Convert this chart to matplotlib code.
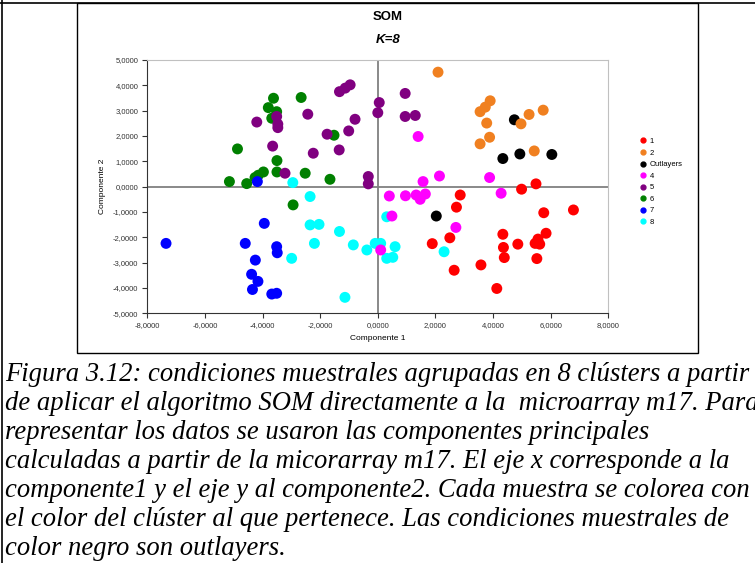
import matplotlib.pyplot as plt
from matplotlib.lines import Line2D
from matplotlib.ticker import FuncFormatter, MultipleLocator

# cluster members, (componente 1, componente 2)
c1_x = [2.86, 2.73, 4.99, 5.49, 5.76, 6.79, 4.34, 5.84, 2.50, 1.89,
        4.36, 4.86, 5.56, 5.62, 5.46, 4.39, 5.52, 3.58, 2.65, 4.13]
c1_y = [-0.33, -0.81, -0.10, 0.11, -1.03, -0.92, -1.88, -1.84, -2.02, -2.25,
        -2.40, -2.27, -2.07, -2.27, -2.24, -2.80, -2.84, -3.09, -3.30, -4.02]

c2_x = [2.09, 3.90, 3.73, 3.55, 3.78, 3.88, 3.55, 5.25, 5.74, 4.97, 5.43]
c2_y = [4.52, 3.39, 3.14, 2.96, 2.51, 1.95, 1.69, 2.85, 3.02, 2.48, 1.41]

out_x = [4.74, 4.34, 4.93, 6.04, 2.03]
out_y = [2.64, 1.11, 1.29, 1.27, -1.16]

c4_x = [1.40, 1.57, 2.14, 3.88, 0.40, 0.96, 1.33, 1.47, 1.65, 4.28, 0.49, 2.71, 0.10]
c4_y = [1.98, 0.20, 0.42, 0.36, -0.37, -0.36, -0.33, -0.50, -0.29, -0.26, -1.16, -1.61, -2.50]

c5_x = [-4.20, -3.51, -3.47, -3.47, -2.43, -3.65, -2.24, -1.76, -1.34, -1.01, -0.79,
        -1.33, -1.13, -0.96, 0.05, 0.00, -3.22, -0.33, -0.33, 0.95, 0.95, 1.30]
c5_y = [2.55, 2.77, 2.47, 2.33, 2.86, 1.60, 1.32, 2.07, 1.45, 2.20, 2.66,
        3.75, 3.89, 4.02, 3.32, 2.92, 0.53, 0.40, 0.11, 3.68, 2.77, 2.81]

c6_x = [-3.62, -2.66, -3.80, -3.51, -3.68, -1.52, -4.87, -3.50, -3.50, -3.97,
        -4.15, -4.26, -5.15, -4.55, -2.52, -1.66, -2.94]
c6_y = [3.49, 3.52, 3.12, 2.96, 2.70, 2.03, 1.49, 1.03, 0.58, 0.58,
        0.45, 0.36, 0.20, 0.12, 0.53, 0.29, -0.72]

c7_x = [-7.35, -4.60, -3.94, -3.51, -3.49, -4.25, -4.38, -4.16, -4.35, -3.68, -3.51, -4.18]
c7_y = [-2.24, -2.24, -1.45, -2.37, -2.61, -2.90, -3.46, -3.74, -4.06, -4.24, -4.21, 0.20]

c8_x = [-2.95, -2.35, -2.35, -2.04, -1.33, -2.20, -2.99, -0.85, -0.38, -0.09,
        0.10, -1.14, 0.31, 0.60, 0.31, 0.52, 2.30]
c8_y = [0.16, -0.39, -1.51, -1.49, -1.77, -2.24, -2.83, -2.30, -2.50, -2.24,
        -2.24, -4.37, -1.19, -2.37, -2.83, -2.79, -2.57]

labels = ['1', '2', 'Outlayers', '4', '5', '6', '7', '8']
colors = ['#ff0000', '#f08020', '#000000', '#ff00ff', '#800080', '#008000', '#0000ff', '#00ffff']

caption = [
    "Figura 3.12: condiciones muestrales agrupadas en 8 clústers a partir",
    "de aplicar el algoritmo SOM directamente a la  microarray m17. Para",
    "representar los datos se usaron las componentes principales",
    "calculadas a partir de la micorarray m17. El eje x corresponde a la",
    "componente1 y el eje y al componente2. Cada muestra se colorea con",
    "el color del clúster al que pertenece. Las condiciones muestrales de",
    "color negro son outlayers.",
]

W, H = 755, 563
fig = plt.figure(figsize=(W / 100, H / 100), dpi=100)
plt.rcParams['font.family'] = 'Liberation Sans'

# page borders and chart frame
fig.add_artist(Line2D([0, 1], [1 - 3 / H, 1 - 3 / H], color='black', lw=1.2))
fig.add_artist(Line2D([2 / W, 2 / W], [0, 1], color='black', lw=1.2))
fig.add_artist(plt.Rectangle((77 / W, 1 - 353 / H), (698 - 77) / W, (353 - 3) / H,
                             fill=False, edgecolor='black', lw=1.0))

ax = fig.add_axes([147.3 / W, 1 - 313.3 / H, 461 / W, 253.3 / H])

series = [(out_x, out_y, 2), (c2_x, c2_y, 1), (c1_x, c1_y, 0), (c6_x, c6_y, 5),
          (c7_x, c7_y, 6), (c8_x, c8_y, 7), (c5_x, c5_y, 4), (c4_x, c4_y, 3)]
for xs, ys, i in series:
    ax.scatter(xs, ys, s=62, color=colors[i], edgecolors='none', zorder=3)

ax.axhline(0, color='#808080', lw=1.3, zorder=1)
ax.axvline(0, color='#808080', lw=1.3, zorder=1)

ax.set_xlim(-8, 8)
ax.set_ylim(-5, 5)
ax.xaxis.set_major_locator(MultipleLocator(2))
ax.yaxis.set_major_locator(MultipleLocator(1))
fmt = FuncFormatter(lambda v, p: f"{v:.4f}".replace('.', ','))
ax.xaxis.set_major_formatter(fmt)
ax.yaxis.set_major_formatter(fmt)
ax.tick_params(labelsize=5.5, length=3.5, width=0.8, colors='#333333', pad=3)

for side in ['top', 'right']:
    ax.spines[side].set_color('#c0c0c0')
for side in ['left', 'bottom']:
    ax.spines[side].set_color('#333333')

ax.set_xlabel('Componente 1', fontsize=6, labelpad=4)
ax.set_ylabel('Componente 2', fontsize=6, labelpad=5)

fig.text(388 / W, 1 - 17 / H, 'SOM', ha='center', va='center', fontsize=9.5, fontweight='bold')
fig.text(388 / W, 1 - 40 / H, 'K=8', ha='center', va='center', fontsize=9.5,
         fontweight='bold', style='italic')

handles = [Line2D([], [], ls='none', marker='o', markersize=3.5, color=c) for c in colors]
fig.legend(handles, labels, loc='upper left', bbox_to_anchor=(636 / W, 1 - 134 / H),
           frameon=False, fontsize=5.5, handlelength=0.8, handletextpad=0.5,
           labelspacing=0.55, borderpad=0)

for k, line in enumerate(caption):
    fig.text(5 / W, 1 - (381 + 29 * k) / H, line, ha='left', va='baseline',
             fontsize=19.2, family='Liberation Serif', style='italic')

fig.savefig('out.png', dpi=100)
